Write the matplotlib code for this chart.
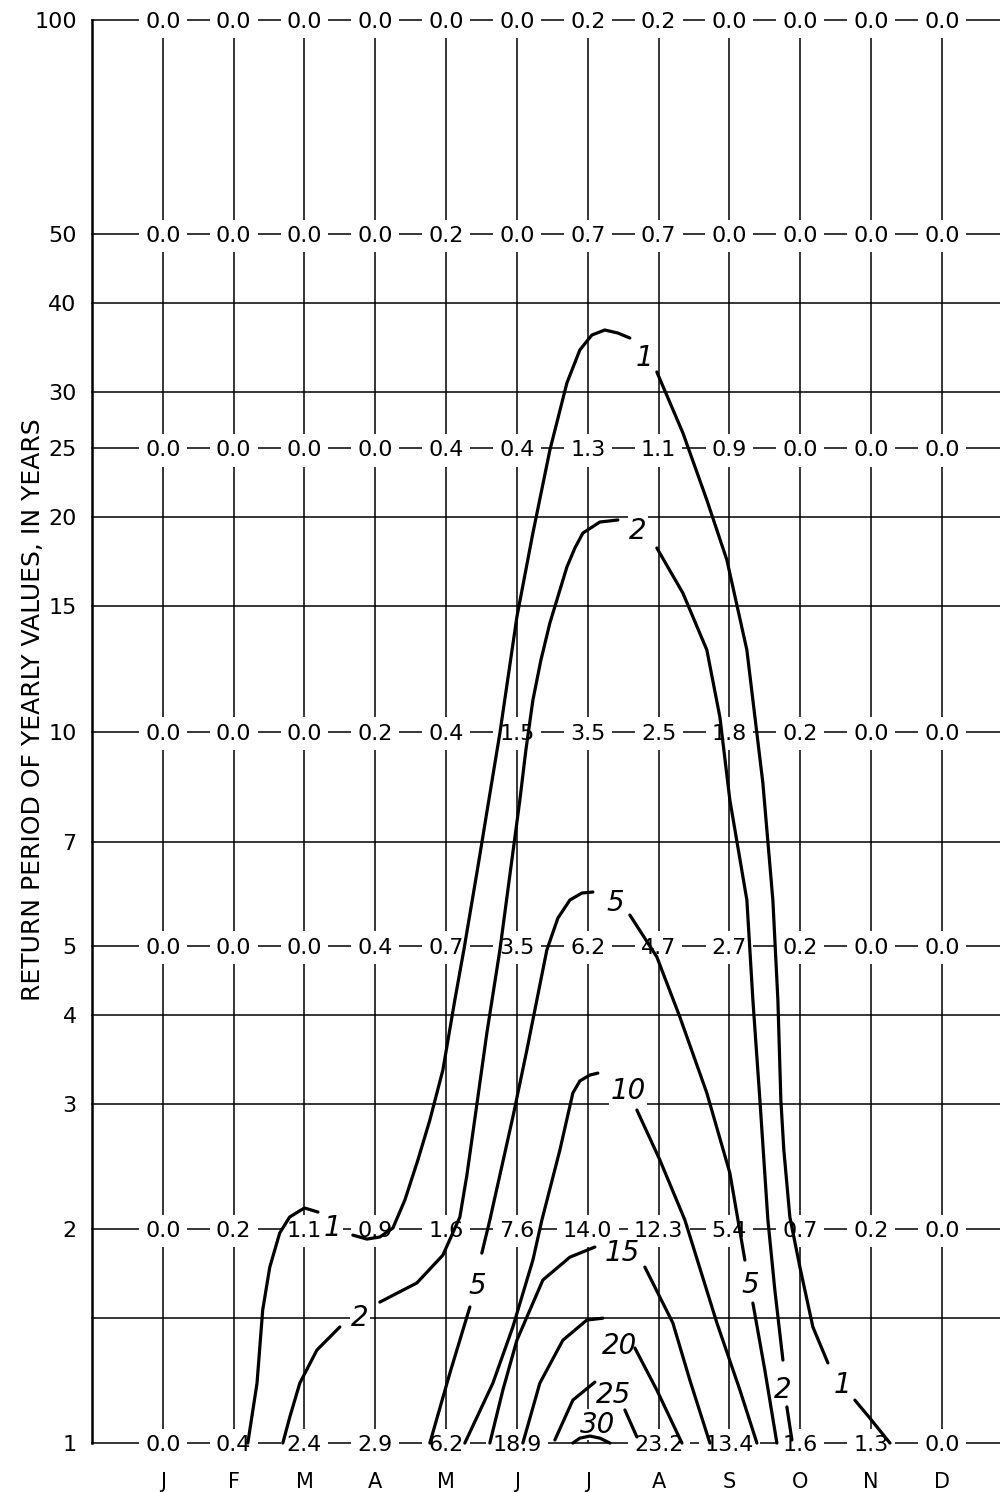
import matplotlib
matplotlib.use("Agg")  # no display in the sandbox
import matplotlib.pyplot as plt
from matplotlib.ticker import NullLocator

# ── Data ──────────────────────────────────────────────────────────────────────
MONTHS = ["J", "F", "M", "A", "M", "J", "J", "A", "S", "O", "N", "D"]

# return periods (years) for which monthly values are tabulated
ROW_PERIODS = [1, 2, 5, 10, 25, 50, 100]

VAL_1   = [0.0, 0.4, 2.4, 2.9, 6.2, 18.9, None, 23.2, 13.4, 1.6, 1.3, 0.0]
VAL_2   = [0.0, 0.2, 1.1, 0.9, 1.6, 7.6, 14.0, 12.3, 5.4, 0.7, 0.2, 0.0]
VAL_5   = [0.0, 0.0, 0.0, 0.4, 0.7, 3.5, 6.2, 4.7, 2.7, 0.2, 0.0, 0.0]
VAL_10  = [0.0, 0.0, 0.0, 0.2, 0.4, 1.5, 3.5, 2.5, 1.8, 0.2, 0.0, 0.0]
VAL_25  = [0.0, 0.0, 0.0, 0.0, 0.4, 0.4, 1.3, 1.1, 0.9, 0.0, 0.0, 0.0]
VAL_50  = [0.0, 0.0, 0.0, 0.0, 0.2, 0.0, 0.7, 0.7, 0.0, 0.0, 0.0, 0.0]
VAL_100 = [0.0, 0.0, 0.0, 0.0, 0.0, 0.0, 0.2, 0.2, 0.0, 0.0, 0.0, 0.0]

GRID_PERIODS = [1, 1.5, 2, 3, 4, 5, 7, 10, 15, 20, 25, 30, 40, 50, 100]
YTICKS = [1, 2, 3, 4, 5, 7, 10, 15, 20, 25, 30, 40, 50, 100]

# isolines: (month position, return period) per segment
ISO_1 = [
    [(1.20, 1.00), (1.33, 1.214), (1.41, 1.538), (1.51, 1.767), (1.65, 1.973),
     (1.79, 2.078), (2.00, 2.140), (2.19, 2.112)],
    [(2.683, 1.960), (2.881, 1.935), (3.064, 1.948), (3.248, 2.005), (3.417, 2.195),
     (3.601, 2.499), (3.770, 2.844), (3.954, 3.344), (4.123, 4.195), (4.250, 4.932),
     (4.448, 6.451), (4.603, 8.012), (4.759, 9.95), (4.999, 14.49), (5.225, 19.01),
     (5.465, 24.87), (5.705, 30.89), (5.888, 34.38), (6.058, 36.08), (6.241, 36.67),
     (6.425, 36.31), (6.594, 35.73)],
    [(6.975, 32.01), (7.343, 26.28), (7.681, 21.15), (7.964, 17.42), (8.246, 13.02),
     (8.472, 8.465), (8.613, 5.797), (8.684, 4.195), (8.726, 3.034), (8.768, 2.581),
     (8.853, 2.078), (8.995, 1.767), (9.178, 1.456), (9.390, 1.296)],
    [(9.771, 1.149), (9.983, 1.084), (10.266, 1.00)],
]
ISO_2 = [
    [(1.694, 1.00), (1.793, 1.088), (1.934, 1.214), (2.175, 1.351), (2.499, 1.456)],
    [(3.064, 1.578), (3.587, 1.679), (3.954, 1.837), (4.194, 2.078), (4.293, 2.380),
     (4.377, 2.727), (4.575, 3.770), (4.759, 4.932), (5.041, 8.012), (5.126, 9.42),
     (5.225, 11.07), (5.338, 12.60), (5.465, 14.21), (5.705, 17.03), (5.818, 18.11),
     (5.931, 19.01), (6.171, 19.70), (6.425, 19.83)],
    [(6.975, 18.11), (7.343, 15.65), (7.681, 13.02), (7.865, 10.48), (8.006, 8.012),
     (8.246, 5.797), (8.331, 4.195), (8.430, 3.034), (8.543, 2.058), (8.641, 1.641),
     (8.755, 1.308)],
    [(8.811, 1.124), (8.882, 1.01)],
]
ISO_5 = [
    [(3.770, 1.00), (4.053, 1.254), (4.335, 1.553)],
    [(4.504, 1.849), (4.617, 2.058), (4.942, 2.872), (5.140, 3.568), (5.422, 4.932),
     (5.578, 5.468), (5.747, 5.797), (5.916, 5.929), (6.072, 5.949)],
    [(6.594, 5.522), (6.975, 4.822), (7.300, 3.970), (7.681, 3.104), (8.006, 2.396),
     (8.218, 1.808)],
    [(8.331, 1.573), (8.500, 1.266), (8.670, 1.00)],
]
ISO_10 = [
    [(4.264, 1.00), (4.660, 1.214), (4.942, 1.456), (5.225, 1.808), (5.352, 2.058),
     (5.606, 2.581), (5.789, 3.104), (5.888, 3.228), (6.029, 3.290), (6.142, 3.311)],
    [(6.693, 2.938), (7.018, 2.499), (7.371, 2.058), (7.823, 1.475), (8.148, 1.187),
     (8.388, 1.00)],
]
ISO_15 = [
    [(4.617, 1.00), (4.801, 1.187), (4.999, 1.395), (5.366, 1.695), (5.747, 1.825),
     (6.100, 1.886)],
    [(6.806, 1.767), (7.201, 1.475), (7.441, 1.226), (7.724, 1.00)],
]
ISO_20 = [
    [(5.083, 1.00), (5.323, 1.214), (5.648, 1.395), (5.987, 1.489), (6.213, 1.498)],
    [(6.665, 1.360), (6.975, 1.187), (7.329, 1.00)],
]
ISO_25 = [
    [(5.535, 1.01), (5.789, 1.149), (6.100, 1.218)],
    [(6.524, 1.113), (6.693, 1.02)],
]
ISO_30 = [
    [(5.789, 1.00), (5.888, 1.016), (6.029, 1.023), (6.171, 1.016), (6.312, 1.00)],
]

ISO_LABELS = [
    ("1", 2.40, 2.025), ("1", 6.806, 33.8), ("1", 9.602, 1.218),
    ("2", 2.782, 1.513), ("2", 6.707, 19.32), ("2", 8.755, 1.199),
    ("5", 4.434, 1.679), ("5", 6.382, 5.797), ("5", 8.289, 1.684),
    ("10", 6.566, 3.155), ("15", 6.481, 1.867), ("20", 6.453, 1.382),
    ("25", 6.368, 1.181), ("30", 6.142, 1.072),
]


def main():
    fig = plt.figure(figsize=(10, 14.92), dpi=100)
    ax = fig.add_axes([0.092, 0.0328, 0.908, 0.9538])

    ax.set_yscale("log")
    ax.set_xlim(-1.0, 11.82)
    ax.set_ylim(1, 100)

    # ── grid drawn by hand (lines run to the figure edge) ────────────────────
    for p in GRID_PERIODS:
        ax.axhline(p, color="black", linewidth=1.1, zorder=1, clip_on=False)
    for i in range(len(MONTHS)):
        ax.axvline(i, color="black", linewidth=1.1, zorder=1)

    # ── tabulated values ─────────────────────────────────────────────────────
    rows = [VAL_1, VAL_2, VAL_5, VAL_10, VAL_25, VAL_50, VAL_100]
    for period, vals in zip(ROW_PERIODS, rows):
        for i, v in enumerate(vals):
            if v is None:
                continue
            ax.text(i, period, f"{v:.1f}", ha="center", va="center_baseline",
                    fontsize=16, zorder=3,
                    bbox=dict(boxstyle="square,pad=0.28", fc="white", ec="none"))

    # ── isolines ─────────────────────────────────────────────────────────────
    for iso in (ISO_1, ISO_2, ISO_5, ISO_10, ISO_15, ISO_20, ISO_25, ISO_30):
        for seg in iso:
            xs = [p[0] for p in seg]
            ys = [p[1] for p in seg]
            ax.plot(xs, ys, color="black", linewidth=2.3, solid_capstyle="round",
                    solid_joinstyle="round", zorder=4, clip_on=False)

    # labels sit under the isolines so their white boxes only break the grid
    for txt, x, y in ISO_LABELS:
        ax.text(x, y, txt, ha="center", va="center_baseline", fontsize=20,
                style="italic", zorder=3.5,
                bbox=dict(boxstyle="square,pad=0.05", fc="white", ec="none"))

    # ── axes ─────────────────────────────────────────────────────────────────
    for side in ("top", "right", "bottom"):
        ax.spines[side].set_visible(False)
    ax.spines["left"].set_linewidth(1.8)
    ax.spines["left"].set_zorder(2)

    ax.set_yticks(YTICKS)
    ax.set_yticklabels([str(v) for v in YTICKS])
    ax.yaxis.set_minor_locator(NullLocator())
    ax.tick_params(axis="y", length=0, pad=11, labelsize=16)

    ax.set_xticks(range(len(MONTHS)))
    ax.set_xticklabels(MONTHS)
    ax.tick_params(axis="x", length=0, pad=21, labelsize=15)

    ax.set_ylabel("RETURN PERIOD OF YEARLY VALUES, IN YEARS", fontsize=18)
    ax.yaxis.set_label_coords(-0.052, 0.515)

    fig.savefig("out.png", dpi=100)
    plt.close(fig)


if __name__ == "__main__":
    main()
